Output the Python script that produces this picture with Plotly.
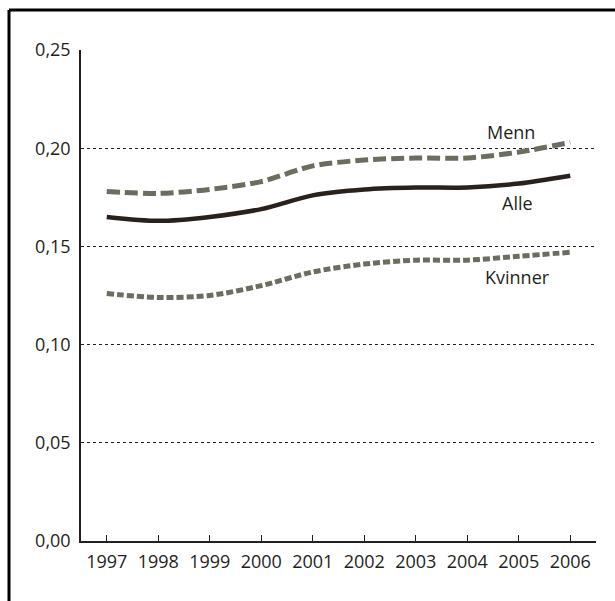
import plotly.graph_objects as go

# Data
years = [1997, 1998, 1999, 2000, 2001, 2002, 2003, 2004, 2005, 2006]
menn = [0.178, 0.177, 0.179, 0.183, 0.191, 0.194, 0.195, 0.195, 0.198, 0.203]
alle = [0.165, 0.163, 0.165, 0.169, 0.176, 0.179, 0.180, 0.180, 0.182, 0.186]
kvinner = [0.126, 0.124, 0.125, 0.130, 0.137, 0.141, 0.143, 0.143, 0.145, 0.147]
y_ticks = [0, 0.05, 0.10, 0.15, 0.20, 0.25]

ink = '#231f20'
grey = '#6b6d5f'

fig = go.Figure()

fig.add_trace(go.Scatter(
    x=years, y=kvinner, mode='lines', name='Kvinner',
    line=dict(color=grey, width=5, dash='7px,3px', shape='spline', smoothing=0.8)
))
fig.add_trace(go.Scatter(
    x=years, y=menn, mode='lines', name='Menn',
    line=dict(color=grey, width=5, dash='13px,5px', shape='spline', smoothing=0.8)
))
fig.add_trace(go.Scatter(
    x=years, y=alle, mode='lines', name='Alle',
    line=dict(color='#2a211d', width=4.5, shape='spline', smoothing=0.8)
))

# Series labels
for txt, xx, yy in [('Menn', 2004.85, 0.2085), ('Alle', 2004.97, 0.172), ('Kvinner', 2004.97, 0.1345)]:
    fig.add_annotation(x=xx, y=yy, text=txt, showarrow=False,
                       font=dict(size=18, color=ink))

# Frame around the figure (top and left edges)
fig.add_shape(type='line', xref='paper', yref='paper',
              x0=-0.1398, x1=1.05, y0=1.0815, y1=1.0815,
              line=dict(color='black', width=3))
fig.add_shape(type='line', xref='paper', yref='paper',
              x0=-0.1398, x1=-0.1398, y0=1.0815, y1=-0.15,
              line=dict(color='black', width=3))

fig.update_layout(
    width=615, height=601,
    margin=dict(l=81, r=19, t=50, b=60),
    plot_bgcolor='white', paper_bgcolor='white',
    showlegend=False,
    separators=', ',
    font=dict(family='Open Sans', size=18, color=ink),
)

fig.update_xaxes(
    range=[1996.5, 2006.5], tickvals=years, ticktext=[str(y) for y in years],
    showgrid=False, showline=True, linecolor=ink, linewidth=1.5,
    ticks='inside', ticklen=6, tickcolor=ink, tickwidth=1.2,
    tickfont=dict(size=18, color=ink), zeroline=False, ticklabelstandoff=4,
)
fig.update_yaxes(
    range=[0, 0.25], tickvals=y_ticks, tickformat='.2f',
    showgrid=True, gridcolor=ink, gridwidth=1, griddash='dot',
    showline=True, linecolor=ink, linewidth=1.5,
    ticks='', zeroline=False, tickfont=dict(size=18, color=ink), ticklabelstandoff=5,
)

fig.write_html("out.html", config={'displayModeBar': False},
               post_script="document.body.style.margin='0';")
